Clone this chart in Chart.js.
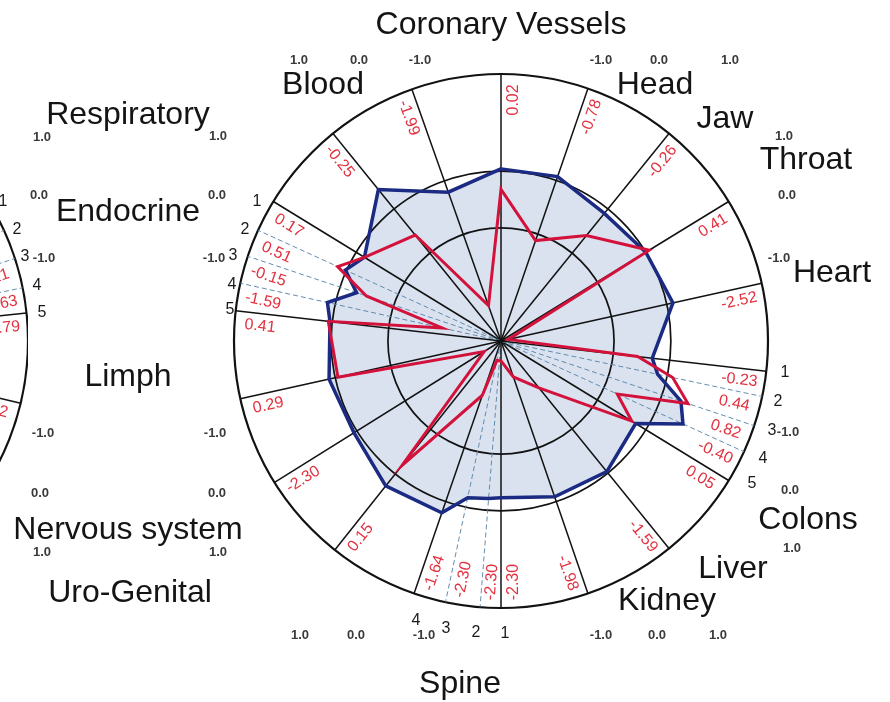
<!DOCTYPE html>
<html><head><meta charset="utf-8">
<script src="https://cdn.jsdelivr.net/npm/chart.js@4.4.1/dist/chart.umd.min.js"></script>
<style>
html,body{margin:0;padding:0;background:#fff;overflow:hidden;}
#wrap{position:relative;width:890px;height:702px;overflow:hidden;background:#fff;}
#left{position:absolute;left:-506px;top:74px;}
#main{position:absolute;left:0;top:0;}
</style></head><body>
<div id="wrap">
<canvas id="left" width="534" height="534"></canvas>
<canvas id="main" width="890" height="702"></canvas>
</div>
<script>
// ---------------- data ----------------
const categories = ['Coronary Vessels','Head','Jaw','Throat','Heart','Colons','Liver','Kidney','Spine','Uro-Genital','Nervous system','Limph','Endocrine','Respiratory','Blood'];
// spoke directions in degrees, clockwise from the top
const spokeAngles = [0, 19, 39, 58.5, 77.5, 96.5, 102, 108.5, 114.5, 121.5, 141, 161, 180, 184.5, 192, 199, 218.5, 238, 257.5, 276.5, 282.5, 288.5, 294.5, 301.5, 321, 340.5];
const dashedAngles = [102, 108.5, 114.5, 184.5, 192, 282.5, 288.5, 294.5];
// red series (values printed in the ring)
const patientValues = [0.02, -0.78, -0.26, 0.41, -2.52, -0.23, 0.44, 0.82, -0.40, 0.05, -1.59, -1.98, -2.30, -2.30, -2.30, -1.64, 0.15, -2.30, 0.29, 0.41, -1.59, -0.15, 0.51, 0.17, -0.25, -1.99];
// blue series (shaded reference profile)
const normalValues = [0.38, 0.41, 0.24, 0.34, 0.45, 0.03, 0.17, 0.69, 0.87, 0.13, 0.31, 0.25, 0.11, 0.13, 0.17, 0.55, 0.61, 0.40, 0.45, 0.38, 0.48, 0.03, 0.36, 0.17, 0.78, 0.13];
const scaleMin = -2.65, scaleMax = 2.05;
const gridValues = [-0.66, 0.34];
const tickLabels = ['1.0', '0.0', '-1.0'];
const subNumbers = ['1', '2', '3', '4', '5'];
// neighbouring chart (only its right rim is inside the picture)
const leftSpokeAngles = [58, 65.5, 72, 78.5, 84, 103.5];
const leftDashedAngles = [65.5, 72, 78.5];
const leftValues = [null, null, 0.21, -1.63, -0.79, 0.12];

// ---------------- layout (page pixels) ----------------
const categoryLayout = [[501,25],[655,85],[725,119],[806,160],[832,273],[808,520],[733,569],[667,601],[460,684],[130,593],[128,530],[128,377],[128,212],[128,115],[323,85]];
const tickLayout = [
 [0,299,60],[1,359,60],[2,420,60],[2,601,60],[1,659,60],[0,730,60],
 [0,300,635],[1,356,635],[2,424,635],[2,601,635],[1,657,635],[0,718,635],
 [0,218,136],[1,217,195],[2,214,258],[2,215,433],[1,217,493],[0,218,552],
 [0,784,136],[1,787,195],[2,779,258],[2,788,432],[1,790,490],[0,792,548],
 [0,42,137],[1,39,195],[2,44,258],[2,43,433],[1,40,493],[0,42,552]
];
const numberLayout = [
 [0,257,202],[1,245,230],[2,233,256],[3,232,285],[4,230,310],
 [0,785,373],[1,778,402],[2,772,431],[3,763,459],[4,752,484],
 [0,505,634],[1,476,633],[2,446,629],[3,416,621],
 [0,3,202],[1,17,230],[2,25,257],[3,37,286],[4,42,313]
];

const SLOT = 0.5, N = 720;
const slotOf = a => Math.round(a / SLOT) % N;
const slotLabels = Array.from({length: N}, () => '');
function sparse(angles, values) {
  const arr = new Array(N).fill(null);
  angles.forEach((a, i) => { if (values[i] !== null) arr[slotOf(a)] = values[i]; });
  return arr;
}
const FONT = '"Liberation Sans", Arial, sans-serif';

function radialScale(spokes, dashed) {
  const kind = new Map();
  spokes.forEach(a => kind.set(slotOf(a), dashed.includes(a) ? 'd' : 's'));
  return {
    type: 'radialLinear', min: scaleMin, max: scaleMax, startAngle: 0,
    afterBuildTicks: s => { s.ticks = [scaleMin, ...gridValues, scaleMax].map(v => ({value: v})); },
    ticks: {display: false},
    pointLabels: {display: false},
    grid: {circular: true, color: '#121212',
      lineWidth: c => c.index === 0 ? 0 : (c.index === gridValues.length + 1 ? 2.2 : 1.7)},
    angleLines: {
      color: c => !kind.has(c.index) ? 'rgba(0,0,0,0)' : (kind.get(c.index) === 'd' ? 'rgba(85,130,165,0.9)' : '#121212'),
      lineWidth: c => !kind.has(c.index) ? 0 : (kind.get(c.index) === 'd' ? 1 : 1.5),
      borderDash: c => kind.get(c.index) === 'd' ? [5, 3] : []
    }
  };
}

const ringPlugin = {
  id: 'ring',
  afterDatasetsDraw(chart) {
    const o = chart.options.plugins.ring;
    if (!o) return;
    const s = chart.scales.r, ctx = chart.ctx;
    const all = o.angles.slice().sort((a, b) => a - b);
    const rLab = s.drawingArea * 0.903;
    ctx.save();
    ctx.font = '16px ' + FONT;
    ctx.fillStyle = '#e2313f';
    ctx.textAlign = 'center';
    ctx.textBaseline = 'middle';
    o.angles.forEach((a, i) => {
      const v = o.values[i];
      if (v === null || v === undefined) return;
      const idx = slotOf(a);
      const theta = s.getIndexAngle(idx);
      const right = theta < Math.PI - 1e-6;
      const k = all.indexOf(a);
      let nb = right ? all[k + 1] : all[k - 1];
      let gap = nb === undefined ? 90 : Math.abs(nb - a);
      if (right && k === all.length - 1 && o.full) gap = 360 - a + all[0];
      const gapPx = gap * Math.PI / 180 * rLab;
      const off = Math.min(gapPx / 2, 12.5);
      const p = s.getPointPosition(idx, rLab);
      const phi = theta - Math.PI / 2;
      const tx = -Math.sin(phi), ty = Math.cos(phi);
      const sg = right ? 1 : -1;
      ctx.save();
      ctx.translate(p.x + sg * tx * off, p.y + sg * ty * off);
      ctx.rotate(right ? phi : phi + Math.PI);
      ctx.fillText(v.toFixed(2), 0, 0);
      ctx.restore();
    });
    ctx.restore();
  }
};

const framePlugin = {
  id: 'frame',
  afterDraw(chart) {
    if (!chart.options.plugins.frame) return;
    const ctx = chart.ctx;
    ctx.save();
    ctx.textAlign = 'center';
    ctx.textBaseline = 'middle';
    ctx.fillStyle = '#141414';
    ctx.font = '32px ' + FONT;
    categories.forEach((c, i) => ctx.fillText(c, categoryLayout[i][0], categoryLayout[i][1]));
    ctx.font = 'bold 13px ' + FONT;
    ctx.fillStyle = '#3a3a3a';
    tickLayout.forEach(([t, x, y]) => ctx.fillText(tickLabels[t], x, y));
    ctx.font = '16px ' + FONT;
    ctx.fillStyle = '#1a1a1a';
    numberLayout.forEach(([n, x, y]) => ctx.fillText(subNumbers[n], x, y));
    ctx.restore();
  }
};

Chart.defaults.font.family = FONT;

new Chart(document.getElementById('left'), {
  type: 'radar',
  data: {labels: slotLabels, datasets: []},
  options: {
    responsive: false, animation: false,
    layout: {padding: 0},
    plugins: {legend: {display: false}, tooltip: {enabled: false},
      ring: {angles: leftSpokeAngles, values: leftValues, full: false}},
    scales: {r: radialScale(leftSpokeAngles, leftDashedAngles)}
  },
  plugins: [ringPlugin]
});

new Chart(document.getElementById('main'), {
  type: 'radar',
  data: {
    labels: slotLabels,
    datasets: [
      {label: 'Patient', data: sparse(spokeAngles, patientValues), spanGaps: true,
       borderColor: '#d3123c', borderWidth: 3, fill: false, pointRadius: 0, tension: 0, borderJoinStyle: 'miter'},
      {label: 'Reference', data: sparse(spokeAngles, normalValues), spanGaps: true,
       borderColor: '#1b2a82', borderWidth: 3.5, backgroundColor: 'rgba(196,208,230,0.62)', fill: 'start',
       pointRadius: 0, tension: 0, borderJoinStyle: 'miter'}
    ]
  },
  options: {
    responsive: false, animation: false,
    layout: {padding: {left: 234, top: 74, right: 122, bottom: 94}},
    plugins: {legend: {display: false}, tooltip: {enabled: false},
      filler: {drawTime: 'beforeDraw'},
      ring: {angles: spokeAngles, values: patientValues, full: true}, frame: true},
    scales: {r: radialScale(spokeAngles, dashedAngles)}
  },
  plugins: [ringPlugin, framePlugin]
});
</script>
</body></html>
